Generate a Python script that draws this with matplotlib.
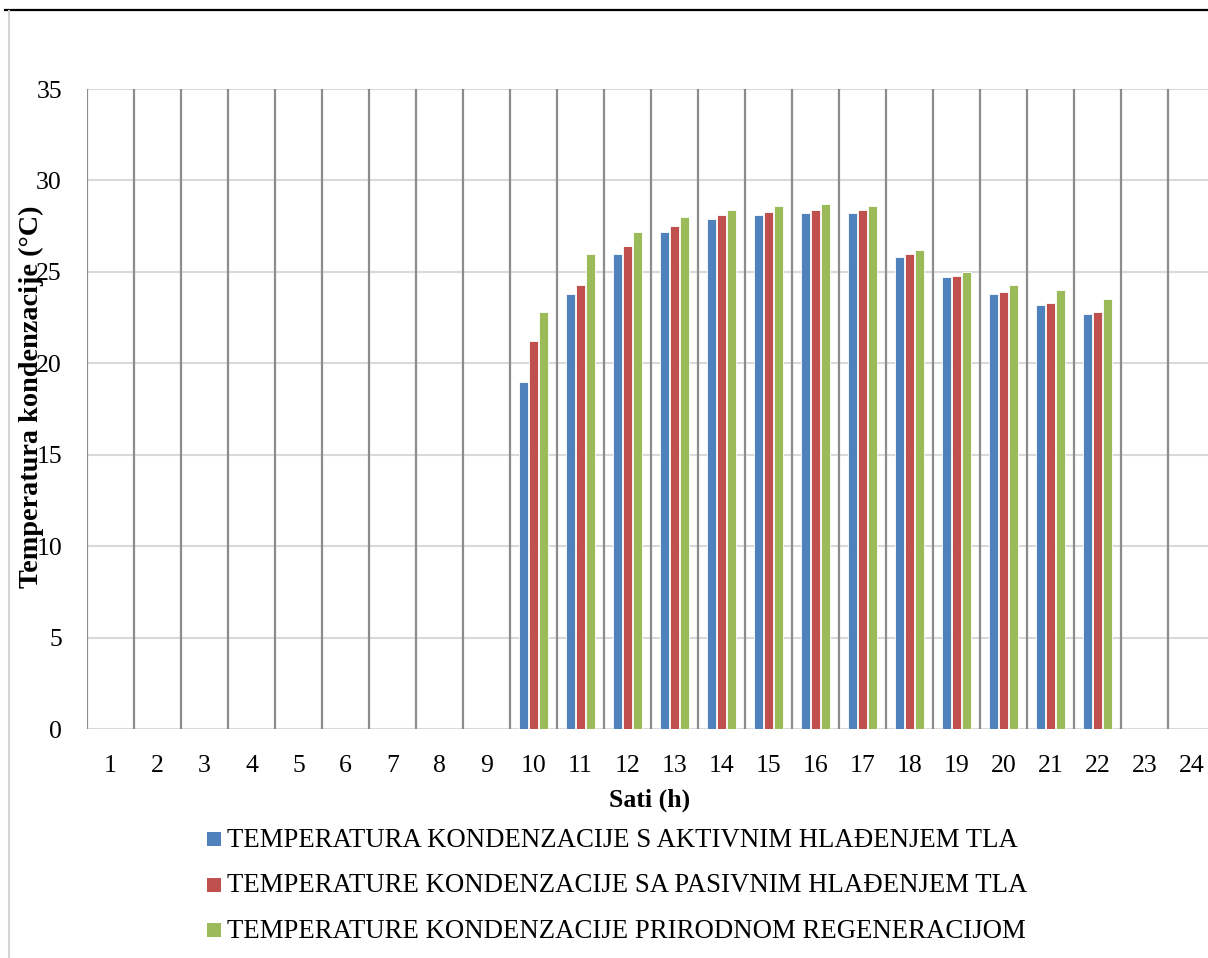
import numpy as np
import matplotlib
matplotlib.use("Agg")
from matplotlib import pyplot as plt
from matplotlib.patches import Rectangle
from matplotlib.lines import Line2D

plt.rcParams['font.family'] = ['Liberation Serif', 'DejaVu Serif']

hours = list(range(1, 25))
labels = ["TEMPERATURA KONDENZACIJE S AKTIVNIM HLAĐENJEM TLA",
          "TEMPERATURE KONDENZACIJE SA PASIVNIM HLAĐENJEM TLA",
          "TEMPERATURE KONDENZACIJE PRIRODNOM REGENERACIJOM"]
colors = ["#4F81BD", "#C0504D", "#9BBB59"]

# values for hours 10..22, other hours empty
data_hours = list(range(10, 23))
aktivno = [19.0, 23.8, 26.0, 27.2, 27.9, 28.1, 28.2, 28.2, 25.8, 24.7, 23.8, 23.2, 22.7]
pasivno = [21.2, 24.3, 26.4, 27.5, 28.1, 28.3, 28.4, 28.4, 26.0, 24.8, 23.9, 23.3, 22.8]
prirodno = [22.8, 26.0, 27.2, 28.0, 28.4, 28.6, 28.7, 28.6, 26.2, 25.0, 24.3, 24.0, 23.5]
series = [aktivno, pasivno, prirodno]

W, H = 1208, 958
fig = plt.figure(figsize=(W / 100, H / 100), dpi=100)
ax = fig.add_axes([87 / W, 1 - 729 / H, 1128 / W, 640 / H])

# horizontal grid
for v in range(0, 36, 5):
    ax.axhline(v, color="#d9d9d9", lw=1.5, zorder=0)
# vertical category separators
ax.vlines(np.arange(0.5, 25, 1), 0, 35, color="#8c8c8c", lw=1.6, zorder=1)

w = 0.195
x = np.array(data_hours)
for i, (vals, c) in enumerate(zip(series, colors)):
    ax.bar(x + (i - 1) * (w + 0.02), vals, width=w, color=c, edgecolor="white",
           linewidth=0.6, zorder=2)

ax.set_xlim(0.5, 24.5)
ax.set_ylim(0, 35)
ax.set_yticks(range(0, 36, 5))
ax.set_xticks(hours)
ax.tick_params(axis="both", length=0, labelsize=18.5)
ax.tick_params(axis="y", pad=18)
ax.tick_params(axis="x", pad=19)
for s in ax.spines.values():
    s.set_visible(False)

fig.text(650 / W, 1 - 800 / H, "Sati (h)", fontsize=18.5, fontweight="bold",
         ha="center", va="center")
fig.text(31 / W, 1 - 397 / H, "Temperatura kondenzacije (°C)", fontsize=20.3,
         fontweight="bold", rotation=90, ha="center", va="center")

# legend drawn by hand
for i, (lab, c) in enumerate(zip(labels, colors)):
    top = 832 + i * 45.5
    fig.add_artist(Rectangle((207 / W, 1 - (top + 14) / H), 14 / W, 14 / H,
                             facecolor=c, edgecolor="none", transform=fig.transFigure))
    fig.text(227 / W, 1 - (top + 15) / H, lab, fontsize=19.3, ha="left", va="baseline")

# page header line and frame border
fig.add_artist(Line2D([5 / W, 1], [1 - 10 / H] * 2, color="black", lw=1.6,
                      transform=fig.transFigure))
fig.add_artist(Line2D([9 / W] * 2, [0, 1 - 11 / H], color="#d4d4d4", lw=1.5,
                      transform=fig.transFigure))

fig.savefig("out.png", dpi=100)
